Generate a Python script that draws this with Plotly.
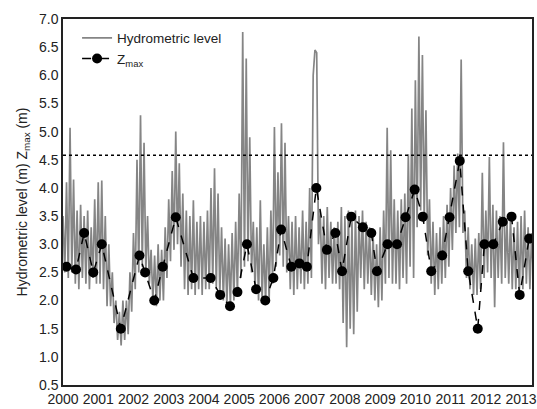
import numpy as np
import plotly.graph_objects as go

# ---- Data ----
# Hydrometric level: pairs of (local high, local low) for successive 0.1-year bins from 2000.0
level_start = 2000.0
level_bin = 0.1
level_pairs = [
    (3.5, 2.5), (4.1, 2.4), (5.07, 2.5), (4.15, 2.3), (3.6, 2.2), (3.7, 2.4), (3.5, 2.3), (3.6, 2.2), (3.3, 2.4), (3.8, 2.3),
    (4.1, 2.3), (4.13, 2.2), (3.5, 1.9), (3.0, 1.9), (2.5, 1.6), (2.0, 1.3), (1.8, 1.2), (2.0, 1.3), (2.0, 1.4), (2.5, 1.8),
    (3.2, 2.2), (4.5, 2.5), (5.29, 2.6), (4.8, 2.5), (3.5, 2.3), (2.9, 2.0), (2.8, 1.9), (3.0, 2.0), (2.9, 2.0), (3.3, 2.4),
    (3.8, 2.7), (4.3, 2.9), (5.0, 3.0), (4.44, 2.6), (3.9, 2.2), (3.6, 2.1), (3.5, 2.2), (3.78, 2.1), (3.4, 2.2), (3.5, 2.1),
    (3.4, 2.2), (3.6, 2.2), (4.0, 2.3), (4.35, 2.2), (3.9, 2.1), (3.3, 2.0), (3.1, 1.9), (3.0, 1.9), (3.2, 2.0), (3.4, 2.1),
    (3.9, 2.4), (6.77, 2.6), (6.3, 2.7), (4.9, 2.5), (3.4, 2.2), (3.3, 2.0), (3.78, 2.0), (3.0, 1.95), (3.3, 2.0), (3.6, 2.3),
    (5.08, 2.6), (4.28, 2.8), (5.15, 2.6), (4.8, 2.5), (3.5, 2.2), (3.4, 2.1), (3.5, 2.2), (3.3, 2.3), (3.6, 2.2), (3.4, 2.3),
    (4.0, 2.4), (6.0, 6.45), (6.4, 3.0), (3.6, 2.3), (3.5, 2.2), (3.66, 2.4), (3.4, 2.3), (3.3, 2.3), (3.4, 2.2), (3.66, 1.6),
    (3.5, 1.17), (3.6, 1.5), (3.4, 1.4), (3.6, 1.8), (3.5, 2.4), (3.6, 2.2), (3.4, 2.3), (3.3, 2.1), (3.2, 2.0), (3.0, 1.88),
    (3.3, 2.0), (3.6, 2.3), (5.07, 2.4), (4.67, 2.3), (3.8, 2.3), (3.6, 2.2), (3.8, 2.4), (3.9, 2.3), (4.6, 2.6), (5.41, 2.4),
    (5.91, 3.3), (6.69, 3.6), (6.36, 3.4), (5.38, 2.8), (3.8, 2.3), (3.4, 2.1), (3.2, 2.2), (3.3, 2.3), (3.5, 2.4), (3.7, 2.6),
    (4.0, 2.9), (4.4, 3.2), (4.61, 3.3), (6.28, 3.2), (3.6, 2.4), (3.3, 2.2), (3.0, 2.1), (3.1, 2.1), (3.2, 2.2), (4.27, 2.4),
    (3.6, 2.5), (4.55, 2.4), (3.7, 1.88), (3.6, 2.4), (3.5, 2.3), (4.81, 2.4), (3.4, 2.3), (3.5, 2.2), (3.3, 2.2), (3.4, 2.1),
    (3.5, 2.2), (3.6, 2.3), (3.3, 2.2), (3.2, 2.4),
]

# Z_max points (decimal year, level in m)
zmax_years = [2000.10, 2000.37, 2000.60, 2000.86, 2001.10, 2001.64, 2002.17, 2002.33, 2002.59, 2002.83,
              2003.20, 2003.70, 2004.19, 2004.46, 2004.74, 2004.95, 2005.22, 2005.48, 2005.74, 2005.97,
              2006.19, 2006.48, 2006.71, 2006.92, 2007.19, 2007.49, 2007.73, 2007.92, 2008.18, 2008.51,
              2008.75, 2008.91, 2009.21, 2009.48, 2009.72, 2009.98, 2010.21, 2010.45, 2010.76, 2010.97,
              2011.26, 2011.50, 2011.77, 2011.96, 2012.21, 2012.48, 2012.73, 2012.96, 2013.23]
zmax_values = [2.60, 2.55, 3.20, 2.50, 3.00, 1.50, 2.80, 2.50, 2.00, 2.60,
               3.48, 2.40, 2.40, 2.10, 1.90, 2.15, 3.00, 2.20, 2.00, 2.40,
               3.26, 2.60, 2.66, 2.60, 4.00, 2.90, 3.20, 2.52, 3.49, 3.30,
               3.20, 2.52, 3.00, 3.00, 3.48, 3.97, 3.49, 2.52, 2.80, 3.48,
               4.48, 2.52, 1.50, 3.00, 3.00, 3.40, 3.49, 2.10, 3.10]

threshold = 4.58
year_ticks = list(range(2000, 2014))
y_ticks = [0.5, 1.0, 1.5, 2.0, 2.5, 3.0, 3.5, 4.0, 4.5, 5.0, 5.5, 6.0, 6.5, 7.0]

# ---- Build the level series (high at bin start, low at bin middle) ----
level_x, level_y = [], []
for i, (hi, lo) in enumerate(level_pairs):
    t = level_start + i * level_bin
    level_x += [t, t + level_bin / 2]
    level_y += [hi, lo]

FONT = "Liberation Sans, Arial, sans-serif"

fig = go.Figure()
fig.add_trace(go.Scatter(
    x=level_x, y=level_y, mode="lines", name="Hydrometric level",
    line=dict(color="#858585", width=1.7),
))
fig.add_trace(go.Scatter(
    x=zmax_years, y=zmax_values, mode="lines+markers", name="Z<sub>max</sub>",
    line=dict(color="black", width=1.5, dash="dash"),
    marker=dict(color="black", size=10),
))
fig.add_hline(y=threshold, line=dict(color="black", width=1.5, dash="dot"))

fig.update_layout(
    width=537, height=409,
    margin=dict(l=63, r=5, t=19, b=24, autoexpand=False),
    paper_bgcolor="white", plot_bgcolor="white",
    font=dict(family=FONT, size=14, color="#222"),
    showlegend=True,
    legend=dict(x=0.03, y=0.99, xanchor="left", yanchor="top",
                bgcolor="rgba(0,0,0,0)", font=dict(size=13.5, color="#222"),
                tracegroupgap=0, itemwidth=30),
)
fig.update_xaxes(
    range=[2000, 2013.31], tickmode="array", tickvals=year_ticks,
    ticktext=[str(y) for y in year_ticks], automargin=False,
    showgrid=False, zeroline=False, showline=True, linecolor="#222",
    linewidth=1.5, mirror=True, ticks="", tickfont=dict(size=14),
)
fig.update_yaxes(
    range=[0.5, 7.0], tickmode="array", tickvals=y_ticks,
    ticktext=[f"{v:.1f}" for v in y_ticks], automargin=False,
    showgrid=False, zeroline=False, showline=True, linecolor="#222",
    linewidth=1.5, mirror=True, ticks="", tickfont=dict(size=14),
    title=dict(text="Hydrometric level (m) Z<sub>max</sub> (m)", font=dict(size=14), standoff=8),
)

fig.write_html(
    "out.html",
    config={"displayModeBar": False},
    post_script="document.body.style.margin='0';document.body.style.overflow='hidden';",
)
